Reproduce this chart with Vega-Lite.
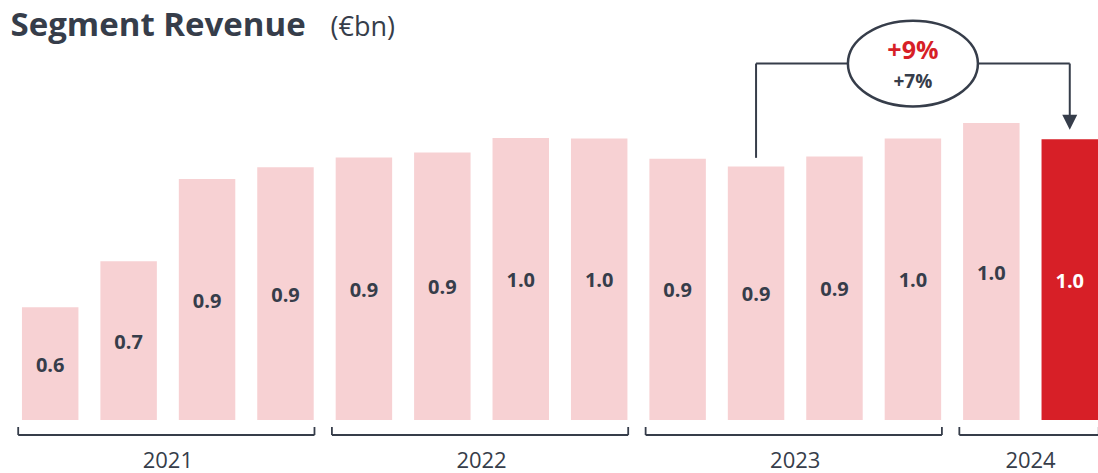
{
"$schema": "https://vega.github.io/schema/vega-lite/v6.json",
"width": 1098,
"height": 370,
"autosize": {"type": "none"},
"padding": {"left": 0, "top": 50, "right": 0, "bottom": 53},
"background": "#ffffff",
"config": {"view": {"stroke": null}, "font": "Open Sans", "text": {"font": "Open Sans"}},
"datasets": {
  "revenue": [
    {"quarter": "Q1 2021", "value": 0.600},
    {"quarter": "Q2 2021", "value": 0.702},
    {"quarter": "Q3 2021", "value": 0.884},
    {"quarter": "Q4 2021", "value": 0.910},
    {"quarter": "Q1 2022", "value": 0.932},
    {"quarter": "Q2 2022", "value": 0.943},
    {"quarter": "Q3 2022", "value": 0.975},
    {"quarter": "Q4 2022", "value": 0.974},
    {"quarter": "Q1 2023", "value": 0.929},
    {"quarter": "Q2 2023", "value": 0.912},
    {"quarter": "Q3 2023", "value": 0.934},
    {"quarter": "Q4 2023", "value": 0.974},
    {"quarter": "Q1 2024", "value": 1.008},
    {"quarter": "Q2 2024", "value": 0.972}
  ],
  "years": [
    {"year": "2021", "first": "Q1 2021", "last": "Q4 2021", "mid": "Q2 2021"},
    {"year": "2022", "first": "Q1 2022", "last": "Q4 2022", "mid": "Q2 2022"},
    {"year": "2023", "first": "Q1 2023", "last": "Q4 2023", "mid": "Q2 2023"},
    {"year": "2024", "first": "Q1 2024", "last": "Q2 2024", "mid": "Q1 2024"}
  ],
  "growth": [
    {"from": "Q2 2023", "to": "Q2 2024", "mid": "Q4 2023", "start": 0.931, "level": 1.14, "end": 1.026, "tip": 1.010, "reported": "+9%", "organic": "+7%"}
  ]
},
"resolve": {"scale": {"y": "independent"}},
"layer": [
  {
    "data": {"name": "revenue"},
    "mark": {"type": "bar"},
    "encoding": {
      "x": {"field": "quarter", "type": "nominal",
        "scale": {"domain": ["Q1 2021","Q2 2021","Q3 2021","Q4 2021","Q1 2022","Q2 2022","Q3 2022","Q4 2022","Q1 2023","Q2 2023","Q3 2023","Q4 2023","Q1 2024","Q2 2024"], "paddingInner": 0.28, "paddingOuter": 0.14, "align": 1, "round": false},
        "axis": {"title": null, "labels": false, "ticks": false, "grid": false, "domain": true, "domainColor": "#363d4a", "domainWidth": 2}},
      "y": {"field": "value", "type": "quantitative", "scale": {"domain": [0.35, 1.17], "zero": false, "nice": false},
        "axis": {"orient": "left", "title": "Segment Revenue", "titleAngle": 0, "titleAlign": "left", "titleBaseline": "alphabetic", "titleX": 10, "titleY": -15, "titleFontSize": 33, "titleFontWeight": "bold", "titleColor": "#363d4a", "titleFont": "Open Sans", "domain": false, "ticks": false, "labels": false, "grid": false}},
      "y2": {"datum": 0.35},
      "color": {"condition": {"test": "datum.quarter === 'Q2 2024'", "value": "#d71f27"}, "value": "#f7d1d3"}
    }
  },
  {
    "data": {"name": "revenue"},
    "mark": {"type": "text", "fontSize": 20, "fontWeight": "bold", "baseline": "middle", "dy": 2},
    "encoding": {
      "x": {"field": "quarter", "type": "nominal", "scale": {"domain": ["Q1 2021","Q2 2021","Q3 2021","Q4 2021","Q1 2022","Q2 2022","Q3 2022","Q4 2022","Q1 2023","Q2 2023","Q3 2023","Q4 2023","Q1 2024","Q2 2024"]}, "axis": null},
      "y": {"field": "value", "type": "quantitative", "scale": {"domain": [0.35, 1.99], "zero": false, "nice": false},
        "axis": {"orient": "right", "title": "(€bn)", "titleAngle": 0, "titleAlign": "left", "titleBaseline": "alphabetic", "titleX": -768, "titleY": -15, "titleFontSize": 27, "titleFontWeight": "normal", "titleColor": "#363d4a", "titleFont": "Open Sans", "domain": false, "ticks": false, "labels": false, "grid": false}},
      "text": {"field": "value", "type": "quantitative", "format": ".1f"},
      "color": {"condition": {"test": "datum.quarter === 'Q2 2024'", "value": "#ffffff"}, "value": "#363d4a"}
    }
  },
  {
    "data": {"name": "years"},
    "mark": {"type": "rule", "color": "#363d4a", "strokeWidth": 1.8, "xOffset": -32, "x2Offset": 29, "yOffset": 15},
    "encoding": {
      "x": {"field": "first", "type": "nominal", "scale": {"domain": ["Q1 2021","Q2 2021","Q3 2021","Q4 2021","Q1 2022","Q2 2022","Q3 2022","Q4 2022","Q1 2023","Q2 2023","Q3 2023","Q4 2023","Q1 2024","Q2 2024"]}, "axis": null},
      "x2": {"field": "last"},
      "y": {"datum": 0.35, "type": "quantitative", "scale": {"domain": [0.35, 1.17], "zero": false, "nice": false}, "axis": null}
    }
  },
  {
    "data": {"name": "years"},
    "mark": {"type": "rule", "color": "#363d4a", "strokeWidth": 1.8, "xOffset": -32, "yOffset": 7, "y2Offset": 15},
    "encoding": {
      "x": {"field": "first", "type": "nominal", "scale": {"domain": ["Q1 2021","Q2 2021","Q3 2021","Q4 2021","Q1 2022","Q2 2022","Q3 2022","Q4 2022","Q1 2023","Q2 2023","Q3 2023","Q4 2023","Q1 2024","Q2 2024"]}, "axis": null},
      "y": {"datum": 0.35, "type": "quantitative", "scale": {"domain": [0.35, 1.17], "zero": false, "nice": false}, "axis": null},
      "y2": {"datum": 0.35}
    }
  },
  {
    "data": {"name": "years"},
    "mark": {"type": "rule", "color": "#363d4a", "strokeWidth": 1.8, "xOffset": 29, "yOffset": 7, "y2Offset": 15},
    "encoding": {
      "x": {"field": "last", "type": "nominal", "scale": {"domain": ["Q1 2021","Q2 2021","Q3 2021","Q4 2021","Q1 2022","Q2 2022","Q3 2022","Q4 2022","Q1 2023","Q2 2023","Q3 2023","Q4 2023","Q1 2024","Q2 2024"]}, "axis": null},
      "y": {"datum": 0.35, "type": "quantitative", "scale": {"domain": [0.35, 1.17], "zero": false, "nice": false}, "axis": null},
      "y2": {"datum": 0.35}
    }
  },
  {
    "data": {"name": "years"},
    "mark": {"type": "text", "fontSize": 22, "color": "#363d4a", "baseline": "alphabetic", "align": "center", "xOffset": 39.2, "yOffset": 48},
    "encoding": {
      "x": {"field": "mid", "type": "nominal", "scale": {"domain": ["Q1 2021","Q2 2021","Q3 2021","Q4 2021","Q1 2022","Q2 2022","Q3 2022","Q4 2022","Q1 2023","Q2 2023","Q3 2023","Q4 2023","Q1 2024","Q2 2024"]}, "axis": null},
      "y": {"datum": 0.35, "type": "quantitative", "scale": {"domain": [0.35, 1.17], "zero": false, "nice": false}, "axis": null},
      "text": {"field": "year", "type": "nominal"}
    }
  },
  {
    "data": {"name": "growth"},
    "mark": {"type": "rule", "color": "#363d4a", "strokeWidth": 2},
    "encoding": {
      "x": {"field": "from", "type": "nominal", "scale": {"domain": ["Q1 2021","Q2 2021","Q3 2021","Q4 2021","Q1 2022","Q2 2022","Q3 2022","Q4 2022","Q1 2023","Q2 2023","Q3 2023","Q4 2023","Q1 2024","Q2 2024"]}, "axis": null},
      "y": {"field": "start", "type": "quantitative", "scale": {"domain": [0.35, 1.17], "zero": false, "nice": false}, "axis": null},
      "y2": {"field": "level"}
    }
  },
  {
    "data": {"name": "growth"},
    "mark": {"type": "rule", "color": "#363d4a", "strokeWidth": 2},
    "encoding": {
      "x": {"field": "from", "type": "nominal", "scale": {"domain": ["Q1 2021","Q2 2021","Q3 2021","Q4 2021","Q1 2022","Q2 2022","Q3 2022","Q4 2022","Q1 2023","Q2 2023","Q3 2023","Q4 2023","Q1 2024","Q2 2024"]}, "axis": null},
      "x2": {"field": "to"},
      "y": {"field": "level", "type": "quantitative", "scale": {"domain": [0.35, 1.17], "zero": false, "nice": false}, "axis": null}
    }
  },
  {
    "data": {"name": "growth"},
    "mark": {"type": "rule", "color": "#363d4a", "strokeWidth": 2},
    "encoding": {
      "x": {"field": "to", "type": "nominal", "scale": {"domain": ["Q1 2021","Q2 2021","Q3 2021","Q4 2021","Q1 2022","Q2 2022","Q3 2022","Q4 2022","Q1 2023","Q2 2023","Q3 2023","Q4 2023","Q1 2024","Q2 2024"]}, "axis": null},
      "y": {"field": "level", "type": "quantitative", "scale": {"domain": [0.35, 1.17], "zero": false, "nice": false}, "axis": null},
      "y2": {"field": "end"}
    }
  },
  {
    "data": {"name": "growth"},
    "mark": {"type": "point", "shape": "M -1 -1 L 1 -1 L 0 1 Z", "size": 225, "filled": true, "color": "#363d4a", "opacity": 1},
    "encoding": {
      "x": {"field": "to", "type": "nominal", "scale": {"domain": ["Q1 2021","Q2 2021","Q3 2021","Q4 2021","Q1 2022","Q2 2022","Q3 2022","Q4 2022","Q1 2023","Q2 2023","Q3 2023","Q4 2023","Q1 2024","Q2 2024"]}, "axis": null},
      "y": {"field": "tip", "type": "quantitative", "scale": {"domain": [0.35, 1.17], "zero": false, "nice": false}, "axis": null}
    }
  },
  {
    "data": {"name": "growth"},
    "mark": {"type": "point", "shape": "M -1 0 A 1 0.66 0 1 1 1 0 A 1 0.66 0 1 1 -1 0 Z", "size": 16900, "filled": true, "fill": "#ffffff", "stroke": "#363d4a", "strokeWidth": 2.5, "opacity": 1},
    "encoding": {
      "x": {"field": "mid", "type": "nominal", "scale": {"domain": ["Q1 2021","Q2 2021","Q3 2021","Q4 2021","Q1 2022","Q2 2022","Q3 2022","Q4 2022","Q1 2023","Q2 2023","Q3 2023","Q4 2023","Q1 2024","Q2 2024"]}, "axis": null},
      "y": {"field": "level", "type": "quantitative", "scale": {"domain": [0.35, 1.17], "zero": false, "nice": false}, "axis": null}
    }
  },
  {
    "data": {"name": "growth"},
    "mark": {"type": "text", "fontSize": 25, "fontWeight": "bold", "color": "#d71f27", "baseline": "middle", "dy": -12.5},
    "encoding": {
      "x": {"field": "mid", "type": "nominal", "scale": {"domain": ["Q1 2021","Q2 2021","Q3 2021","Q4 2021","Q1 2022","Q2 2022","Q3 2022","Q4 2022","Q1 2023","Q2 2023","Q3 2023","Q4 2023","Q1 2024","Q2 2024"]}, "axis": null},
      "y": {"field": "level", "type": "quantitative", "scale": {"domain": [0.35, 1.17], "zero": false, "nice": false}, "axis": null},
      "text": {"field": "reported", "type": "nominal"}
    }
  },
  {
    "data": {"name": "growth"},
    "mark": {"type": "text", "fontSize": 19, "fontWeight": "bold", "color": "#363d4a", "baseline": "middle", "dy": 18.5},
    "encoding": {
      "x": {"field": "mid", "type": "nominal", "scale": {"domain": ["Q1 2021","Q2 2021","Q3 2021","Q4 2021","Q1 2022","Q2 2022","Q3 2022","Q4 2022","Q1 2023","Q2 2023","Q3 2023","Q4 2023","Q1 2024","Q2 2024"]}, "axis": null},
      "y": {"field": "level", "type": "quantitative", "scale": {"domain": [0.35, 1.17], "zero": false, "nice": false}, "axis": null},
      "text": {"field": "organic", "type": "nominal"}
    }
  }
]
}
